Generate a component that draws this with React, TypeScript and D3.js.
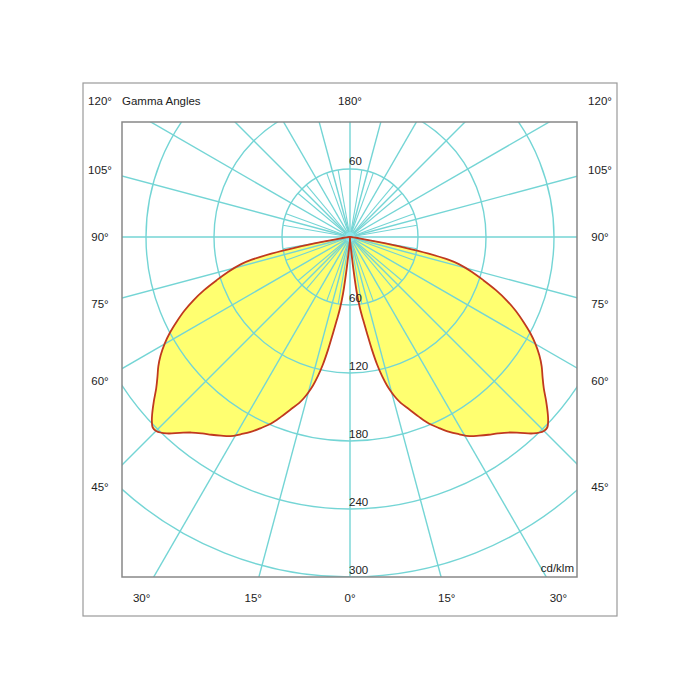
import React from "react";
import * as d3 from "d3";

// Luminous intensity distribution (cd/klm) by gamma angle (deg), symmetric C-planes
const gammaDeg = [0, 3, 5, 6, 7, 8, 9, 10, 11, 12, 13, 14, 15, 16, 17, 19, 21, 23, 25, 27, 29, 31, 33, 35, 37, 39, 41, 43, 45, 46, 47, 48, 50, 52, 54, 56, 58, 60, 62, 64, 66, 68, 70, 72, 74, 76, 77, 78, 79, 80, 82, 85, 90];
const intensity = [3, 5, 12, 28, 50, 64, 74, 86, 101, 115, 126, 135, 142, 148, 153, 161, 170, 179, 186, 193, 199, 205, 209, 213, 217, 222, 229, 237, 242, 242, 239, 235, 226, 217, 210, 204, 197, 189, 180, 170, 160, 149, 137, 124, 112, 99, 89, 71, 48, 25, 8, 3, 0];

const ringValues = [60, 120, 180, 240, 300];
const majorAngles = [-165, -150, -135, -120, -105, -90, -75, -60, -45, -30, -15, 0, 15, 30, 45, 60, 75, 90, 105, 120, 135, 150, 165, 180];
const sideLabels = ["105°", "90°", "75°", "60°", "45°"];
const sideLabelAngles = [105, 90, 75, 60, 45];
const bottomLabels = ["30°", "15°", "0°", "15°", "30°"];
const bottomLabelAngles = [-30, -15, 0, 15, 30];

const W = 700, H = 700;
const box = { x0: 122, y0: 122, x1: 577, y1: 577 };
const frame = { x0: 83, y0: 83, x1: 617, y1: 616 };
const cx = 350, cy = 237;
const gridColor = "#74d5d5";
const font = "Liberation Sans, Arial, sans-serif";
const fs = 11.5;

export default function App() {
  const r = d3.scaleLinear().domain([0, 300]).range([0, 340]);
  const rad = (d: number) => (d * Math.PI) / 180;

  const pts = gammaDeg.map((g, i) => ({ g, v: intensity[i] }));
  const right = d3
    .lineRadial<{ g: number; v: number }>()
    .angle((d) => Math.PI - rad(d.g))
    .radius((d) => r(d.v))
    .curve(d3.curveCatmullRomClosed.alpha(0.5));
  const left = d3
    .lineRadial<{ g: number; v: number }>()
    .angle((d) => Math.PI + rad(d.g))
    .radius((d) => r(d.v))
    .curve(d3.curveCatmullRomClosed.alpha(0.5));

  const far = 800;
  const minorAngles = d3.range(-170, 180, 10).filter((a) => a % 15 !== 0);

  const labelLX = 100, labelRX = 600, labelBY = 598, labelTY = 101;

  return (
    <svg width={W} height={H} style={{ position: "absolute", left: 0, top: 0, background: "#fff" }} fontFamily={font}>
      <rect x={0} y={0} width={W} height={H} fill="#fff" />
      <rect x={frame.x0} y={frame.y0} width={frame.x1 - frame.x0} height={frame.y1 - frame.y0} fill="none" stroke="#9a9a9a" strokeWidth={1.2} />
      <defs>
        <clipPath id="plotclip">
          <rect x={box.x0} y={box.y0} width={box.x1 - box.x0} height={box.y1 - box.y0} />
        </clipPath>
      </defs>
      <g clipPath="url(#plotclip)">
        <g transform={`translate(${cx},${cy})`}>
          <path d={right(pts) || ""} fill="#ffff70" stroke="none" />
          <path d={left(pts) || ""} fill="#ffff70" stroke="none" />
          {ringValues.map((v) => (
            <circle key={v} r={r(v)} fill="none" stroke={gridColor} strokeWidth={1.4} />
          ))}
          {majorAngles.map((a) => (
            <line key={a} x1={0} y1={0} x2={far * Math.sin(rad(a))} y2={far * Math.cos(rad(a))} stroke={gridColor} strokeWidth={1.4} />
          ))}
          {minorAngles.map((a) => (
            <line key={"m" + a} x1={0} y1={0} x2={r(60) * Math.sin(rad(a))} y2={r(60) * Math.cos(rad(a))} stroke={gridColor} strokeWidth={1.1} />
          ))}
          <circle r={5} fill="#8ee8ee" opacity={0.8} />
          <path d={right(pts) || ""} fill="none" stroke="#c0391f" strokeWidth={1.8} />
          <path d={left(pts) || ""} fill="none" stroke="#c0391f" strokeWidth={1.8} />
        </g>
      </g>
      <rect x={box.x0} y={box.y0} width={box.x1 - box.x0} height={box.y1 - box.y0} fill="none" stroke="#888" strokeWidth={1.5} />

      {/* ring value labels */}
      <text x={cx - 1} y={cy - r(60) - 4} fontSize={fs} fill="#222">60</text>
      {ringValues.map((v) => (
        <text key={"rl" + v} x={cx - 1} y={cy + r(v) - 3} fontSize={fs} fill="#222">{v}</text>
      ))}

      {/* top labels */}
      <text x={labelLX} y={labelTY + 4} fontSize={fs} fill="#222" textAnchor="middle">120°</text>
      <text x={labelRX} y={labelTY + 4} fontSize={fs} fill="#222" textAnchor="middle">120°</text>
      <text x={cx} y={labelTY + 4} fontSize={fs} fill="#222" textAnchor="middle">180°</text>
      <text x={122} y={labelTY + 4} fontSize={fs} fill="#222">Gamma Angles</text>

      {/* side labels */}
      {sideLabels.map((t, i) => {
        const a = sideLabelAngles[i];
        const y = cy + (cx - labelLX) / Math.tan(rad(a));
        return (
          <g key={"s" + i}>
            <text x={labelLX} y={y + 4} fontSize={fs} fill="#222" textAnchor="middle">{t}</text>
            <text x={labelRX} y={y + 4} fontSize={fs} fill="#222" textAnchor="middle">{t}</text>
          </g>
        );
      })}

      {/* bottom labels */}
      {bottomLabels.map((t, i) => {
        const a = bottomLabelAngles[i];
        const x = cx + (labelBY - cy) * Math.tan(rad(a));
        return (
          <text key={"b" + i} x={x} y={labelBY + 4} fontSize={fs} fill="#222" textAnchor="middle">{t}</text>
        );
      })}

      <text x={box.x1 - 3} y={box.y1 - 5} fontSize={fs} fill="#222" textAnchor="end">cd/klm</text>
    </svg>
  );
}
